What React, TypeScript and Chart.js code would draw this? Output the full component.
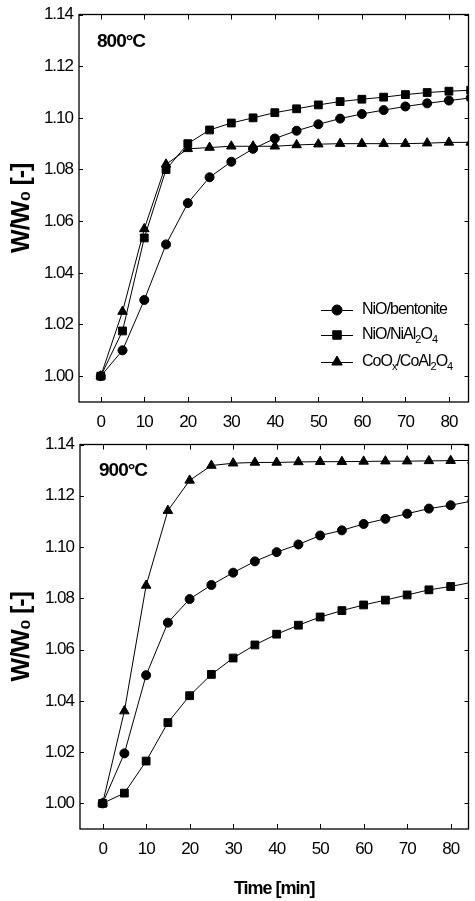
import React, { useEffect, useRef } from 'react';
import { Chart, registerables } from 'chart.js';
import { drawPoint } from 'chart.js/helpers';

Chart.register(...registerables);

// ---------- data ----------
const timeMin = [0, 5, 10, 15, 20, 25, 30, 35, 40, 45, 50, 55, 60, 65, 70, 75, 80, 85];
const xTicks = [0, 10, 20, 30, 40, 50, 60, 70, 80];
const yTicks = [1.0, 1.02, 1.04, 1.06, 1.08, 1.1, 1.12, 1.14];

const seriesLabels = ['NiO/bentonite', 'NiO/NiAl₂O₄', 'CoOₓ/CoAl₂O₄'];
const seriesMarkers = ['circle', 'rect', 'triangle'];
const panelTitles = ['800°C', '900°C'];
const yAxisTitle = 'W/W₀ [-]';
const xAxisTitle = 'Time [min]';

// 800 °C
const nio800 = [1.0, 1.01, 1.0295, 1.051, 1.067, 1.077, 1.083, 1.088, 1.092, 1.095, 1.0975, 1.0997, 1.1015, 1.103, 1.1044, 1.1056, 1.1067, 1.1077];
const niAl800 = [1.0, 1.0175, 1.0535, 1.08, 1.09, 1.0953, 1.098, 1.1, 1.102, 1.1035, 1.105, 1.1063, 1.1072, 1.108, 1.109, 1.1098, 1.1103, 1.1107];
const coo800 = [1.0, 1.025, 1.057, 1.082, 1.088, 1.0885, 1.089, 1.089, 1.089, 1.0895, 1.0898, 1.09, 1.09, 1.09, 1.09, 1.0902, 1.0905, 1.0905];

// 900 °C
const nio900 = [1.0, 1.0195, 1.05, 1.0705, 1.0797, 1.0852, 1.09, 1.0944, 1.098, 1.101, 1.1045, 1.1065, 1.109, 1.111, 1.113, 1.115, 1.1163, 1.118];
const niAl900 = [1.0, 1.004, 1.0165, 1.0315, 1.042, 1.0503, 1.0567, 1.0618, 1.066, 1.0695, 1.0727, 1.0752, 1.0774, 1.0793, 1.0813, 1.0833, 1.0846, 1.0863];
const coo900 = [1.0, 1.036, 1.085, 1.1142, 1.126, 1.1318, 1.1327, 1.133, 1.133, 1.1332, 1.1333, 1.1333, 1.1334, 1.1335, 1.1335, 1.1336, 1.1337, 1.1338];

// ---------- style / layout ----------
const FONT = "'Liberation Sans', Arial, Helvetica, sans-serif";

type PanelGeom = {
  canvasTop: number;
  canvasH: number;
  padTop: number;
  xMin: number;
  xMax: number;
  yMin: number;
  yMax: number;
  yAxisW: number;
  xAxisH: number;
  showXTitle: boolean;
  showLegend: boolean;
  labelX: number;
  labelY: number;
};

const GEOMS: PanelGeom[] = [
  { canvasTop: 0, canvasH: 436, padTop: 13, xMin: -5, xMax: 84.5, yMin: 0.99, yMax: 1.14, yAxisW: 79, xAxisH: 34, showXTitle: false, showLegend: true, labelX: 97, labelY: 42 },
  { canvasTop: 430, canvasH: 471, padTop: 9, xMin: -5.2, xMax: 84.1, yMin: 0.99, yMax: 1.14, yAxisW: 80, xAxisH: 72, showXTitle: true, showLegend: false, labelX: 99, labelY: 41 },
];

const PANEL_SERIES = [
  [nio800, niAl800, coo800],
  [nio900, niAl900, coo900],
];

const SUB: Record<string, string> = { '₀': '0', '₁': '1', '₂': '2', '₃': '3', '₄': '4', 'ₓ': 'x' };

function drawRich(ctx: CanvasRenderingContext2D, text: string, x: number, y: number, size: number) {
  let cx = x;
  ctx.textAlign = 'left';
  ctx.textBaseline = 'middle';
  for (const ch of Array.from(text)) {
    const sub = SUB[ch];
    if (sub) {
      ctx.font = `${Math.round(size * 0.7)}px ${FONT}`;
      ctx.fillText(sub, cx, y + size * 0.32);
      cx += ctx.measureText(sub).width;
    } else {
      ctx.font = `${size}px ${FONT}`;
      ctx.fillText(ch, cx, y);
      cx += ctx.measureText(ch).width;
    }
  }
}

function makeChart(canvas: HTMLCanvasElement, idx: number) {
  const g = GEOMS[idx];
  const series = PANEL_SERIES[idx];

  const framePlugin = {
    id: 'frame' + idx,
    beforeDraw(chart: any) {
      const ctx = chart.ctx as any;
      ctx.letterSpacing = '-1px';
    },
    afterDraw(chart: any) {
      const ctx = chart.ctx as CanvasRenderingContext2D;
      const { left, top, right, bottom } = chart.chartArea;
      const xs = chart.scales.x;
      const ys = chart.scales.y;
      ctx.save();
      ctx.strokeStyle = '#000';
      ctx.lineWidth = 1.3;
      ctx.strokeRect(left, top, right - left, bottom - top);
      ctx.lineWidth = 1;
      ctx.beginPath();
      for (const v of xTicks) {
        const px = Math.round(xs.getPixelForValue(v)) + 0.5;
        ctx.moveTo(px, bottom);
        ctx.lineTo(px, bottom - 5);
        ctx.moveTo(px, top);
        ctx.lineTo(px, top + 5);
      }
      for (const v of yTicks) {
        const py = Math.round(ys.getPixelForValue(v)) + 0.5;
        ctx.moveTo(left, py);
        ctx.lineTo(left + 4, py);
        ctx.moveTo(right, py);
        ctx.lineTo(right - 4, py);
      }
      ctx.stroke();

      // panel temperature label
      ctx.fillStyle = '#000';
      (ctx as any).letterSpacing = '-1px';
      ctx.font = `bold 19px ${FONT}`;
      ctx.textAlign = 'left';
      ctx.textBaseline = 'middle';
      ctx.fillText(panelTitles[idx], g.labelX, g.labelY);

      // legend
      if (g.showLegend) {
        const rows = [310, 335, 362];
        seriesLabels.forEach((lab, i) => {
          const y = rows[i];
          ctx.strokeStyle = '#000';
          ctx.lineWidth = 1;
          ctx.beginPath();
          ctx.moveTo(321, y + 0.5);
          ctx.lineTo(353, y + 0.5);
          ctx.stroke();
          ctx.fillStyle = '#000';
          drawPoint(ctx, { pointStyle: seriesMarkers[i] as any, rotation: 0, radius: seriesMarkers[i] === 'circle' ? 5 : 6, borderWidth: 1 } as any, 337, y);
          ctx.fillStyle = '#000';
          (ctx as any).letterSpacing = '-1px';
          drawRich(ctx, lab, 362, y, 16);
        });
      }
      ctx.restore();
    },
  };

  return new Chart(canvas, {
    type: 'line',
    data: {
      datasets: series.map((vals, i) => ({
        label: seriesLabels[i],
        data: timeMin.map((t, k) => ({ x: t, y: vals[k] })),
        borderColor: '#000',
        backgroundColor: '#000',
        borderWidth: 1,
        pointStyle: seriesMarkers[i] as any,
        pointRadius: seriesMarkers[i] === 'circle' ? 4.5 : 5.5,
        pointBackgroundColor: '#000',
        pointBorderColor: '#000',
        pointBorderWidth: 1,
        tension: 0,
        fill: false,
      })),
    },
    options: {
      animation: false,
      responsive: false,
      maintainAspectRatio: false,
      events: [],
      layout: { padding: { top: g.padTop, right: 1, left: 0, bottom: 0 } },
      plugins: {
        legend: { display: false },
        tooltip: { enabled: false },
        title: { display: false },
      },
      scales: {
        x: {
          type: 'linear',
          min: g.xMin,
          max: g.xMax,
          grid: { display: false, drawTicks: false },
          border: { display: false },
          afterBuildTicks: (s: any) => {
            s.ticks = xTicks.map((v) => ({ value: v }));
          },
          afterFit: (s: any) => {
            s.height = g.xAxisH;
          },
          ticks: {
            autoSkip: false,
            maxRotation: 0,
            minRotation: 0,
            padding: 10,
            color: '#000',
            font: { family: FONT, size: 17 },
            callback: (v: any) => String(v),
          },
          title: {
            display: g.showXTitle,
            text: xAxisTitle,
            color: '#000',
            font: { family: FONT, size: 18, weight: 'bold', lineHeight: 1.2 },
            padding: { top: 0, bottom: 1 },
          },
        },
        y: {
          type: 'linear',
          min: g.yMin,
          max: g.yMax,
          grid: { display: false, drawTicks: false },
          border: { display: false },
          afterBuildTicks: (s: any) => {
            s.ticks = yTicks.map((v) => ({ value: v }));
          },
          afterFit: (s: any) => {
            s.width = g.yAxisW;
          },
          ticks: {
            padding: 6,
            color: '#000',
            font: { family: FONT, size: 17, lineHeight: 1 },
            callback: (v: any) => Number(v).toFixed(2),
          },
          title: {
            display: true,
            text: yAxisTitle,
            color: '#000',
            font: { family: FONT, size: 25, weight: 'bold', lineHeight: 1 },
            padding: { top: 10, bottom: 0 },
          },
        },
      },
    },
    plugins: [framePlugin],
  });
}

function Panel({ idx }: { idx: number }) {
  const ref = useRef<HTMLCanvasElement | null>(null);
  useEffect(() => {
    if (!ref.current) return;
    const chart = makeChart(ref.current, idx);
    return () => chart.destroy();
  }, [idx]);
  const g = GEOMS[idx];
  return (
    <div style={{ position: 'absolute', left: 0, top: g.canvasTop, width: 475, height: g.canvasH }}>
      <canvas ref={ref} width={475} height={g.canvasH} style={{ display: 'block', width: 475, height: g.canvasH }} />
    </div>
  );
}

export default function App() {
  return (
    <div style={{ position: 'absolute', left: 0, top: 0, width: 475, height: 901, background: '#fff', overflow: 'hidden' }}>
      <Panel idx={0} />
      <Panel idx={1} />
    </div>
  );
}
